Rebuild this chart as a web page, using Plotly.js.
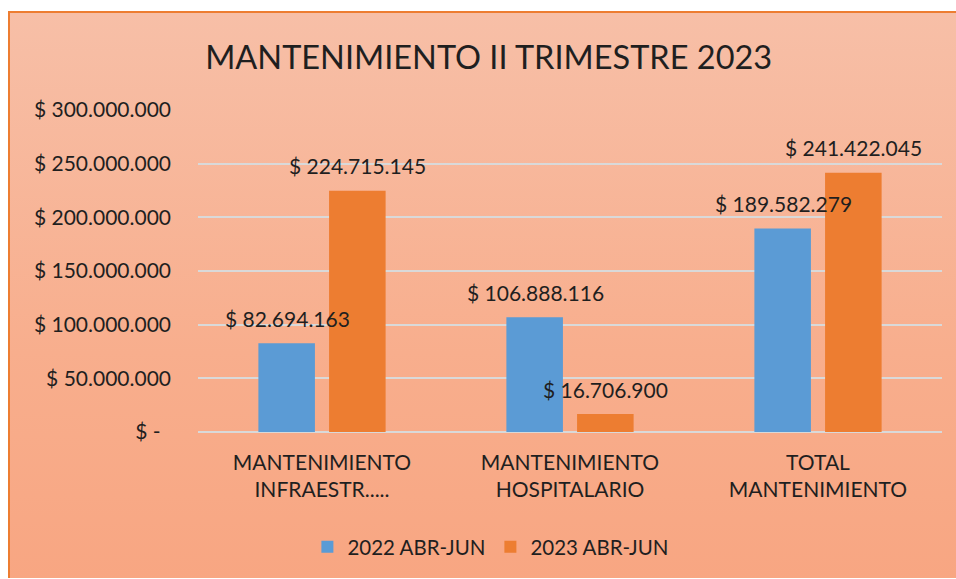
<!DOCTYPE html>
<html>
<head>
<meta charset="utf-8">
<script src="https://cdn.plot.ly/plotly-3.0.1.min.js"></script>
<style>
  html, body { margin: 0; padding: 0; background: #ffffff; width: 956px; height: 579px; overflow: hidden; }
  #frame {
    position: absolute; left: 8px; top: 11px; width: 948px; height: 567px;
    border-left: 2px solid #ED7D31; border-top: 2px solid #ED7D31;
    background: linear-gradient(to bottom, #F7BFA7 0%, #F8AE8D 60%, #F8A682 100%);
    box-sizing: border-box;
  }
  #chart { position: absolute; left: 0; top: 0; width: 946px; height: 566px; }
</style>
</head>
<body>
<div id="frame"><div id="chart"></div></div>
<script>
const categories = ["MANTENIMIENTO<br>INFRAESTR.....", "MANTENIMIENTO<br>HOSPITALARIO", "TOTAL<br>MANTENIMIENTO"];
const seriesNames = ["2022 ABR-JUN", "2023 ABR-JUN"];
const values2022 = [82694163, 106888116, 189582279];
const values2023 = [224715145, 16706900, 241422045];
const labels2022 = ["$ 82.694.163", "$ 106.888.116", "$ 189.582.279"];
const labels2023 = ["$ 224.715.145", "$ 16.706.900", "$ 241.422.045"];
const tickVals = [0, 50000000, 100000000, 150000000, 200000000, 250000000, 300000000];
const tickText = ["$ -\u2002", "$ 50.000.000", "$ 100.000.000", "$ 150.000.000", "$ 200.000.000", "$ 250.000.000", "$ 300.000.000"];

const FONT = "Lato, 'Open Sans', sans-serif";
const TXT = "#1f1f1f";

const traces = [
  { type: "bar", name: seriesNames[0], x: categories, y: values2022, marker: { color: "#5B9BD5" }, hoverinfo: "skip" },
  { type: "bar", name: seriesNames[1], x: categories, y: values2023, marker: { color: "#ED7D31" }, hoverinfo: "skip" }
];

const annotations = [];
const shift = 35;
categories.forEach((c, i) => {
  annotations.push({ x: c, y: values2022[i], xref: "x", yref: "y", text: labels2022[i], showarrow: false,
    xshift: -shift, yshift: 25, font: { family: FONT, size: 21, color: TXT } });
  annotations.push({ x: c, y: values2023[i], xref: "x", yref: "y", text: labels2023[i], showarrow: false,
    xshift: shift, yshift: 25, font: { family: FONT, size: 21, color: TXT } });
});

const layout = {
  width: 946, height: 566,
  margin: { l: 188, r: 14, t: 97, b: 147 },
  paper_bgcolor: "rgba(0,0,0,0)",
  plot_bgcolor: "rgba(0,0,0,0)",
  font: { family: FONT, color: TXT },
  title: { text: "MANTENIMIENTO II TRIMESTRE 2023", font: { family: FONT, size: 32.5, color: TXT },
    xref: "container", yref: "container", x: 0.506, y: 0.922, xanchor: "center", yanchor: "middle" },
  barmode: "group", bargap: 0.43, bargroupgap: 0.2,
  xaxis: { tickfont: { family: FONT, size: 21, color: TXT }, showline: false, ticks: "", showgrid: false,
    ticklabelstandoff: 16 },
  yaxis: { range: [0, 300000000], tickvals: tickVals, ticktext: tickText, tickfont: { family: FONT, size: 21, color: TXT },
    showgrid: true, gridcolor: "#D9D9D9", gridwidth: 2, zeroline: true, zerolinecolor: "#D9D9D9", zerolinewidth: 2,
    ticks: "", ticklabelstandoff: 26, showline: false },
  legend: { orientation: "h", x: 0.393, y: -0.357, xanchor: "center", yanchor: "middle",
    font: { family: FONT, size: 20.5, color: TXT }, bgcolor: "rgba(0,0,0,0)" },
  annotations: annotations,
  showlegend: true
};

Plotly.newPlot("chart", traces, layout, { displayModeBar: false, staticPlot: true });
</script>
</body>
</html>
